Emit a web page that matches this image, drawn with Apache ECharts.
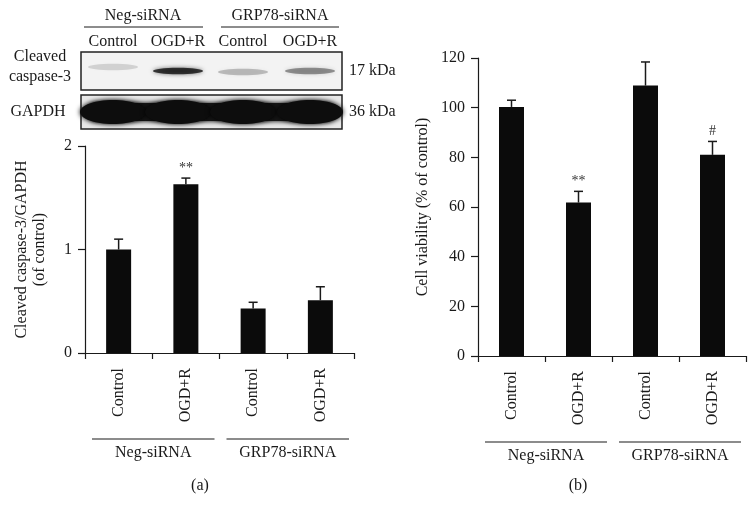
<!DOCTYPE html>
<html>
<head>
<meta charset="utf-8">
<script src="https://cdn.jsdelivr.net/npm/echarts@6/dist/echarts.min.js"></script>
<style>
  html, body { margin: 0; padding: 0; background: #fff; }
  #chart { width: 756px; height: 518px; }
</style>
</head>
<body>
<div id="chart"></div>
<script>
// data
const categories = ['Control', 'OGD+R', 'Control', 'OGD+R']
const groupNames = ['Neg-siRNA', 'GRP78-siRNA']
const groupStart = [0, 2]
const caspaseMean = [1.0, 1.63, 0.43, 0.51]
const caspaseErr = [0.10, 0.06, 0.06, 0.13]
const caspaseMarks = ['', '**', '', '']
const viabilityMean = [100.3, 61.8, 108.9, 81.0]
const viabilityErr = [2.7, 4.5, 9.5, 5.4]
const viabilityMarks = ['', '**', '', '#']
const caspaseTicks = [0, 1, 2]
const viabilityTicks = [0, 20, 40, 60, 80, 100, 120]

const FONT = '"Liberation Serif", "DejaVu Serif", serif'
const INK = '#1a1a1a'

const chart = echarts.init(document.getElementById('chart'))

function yAxisOf(gridIndex, ticks, name, nameGap) {
  return {
    type: 'value',
    gridIndex: gridIndex,
    min: ticks[0],
    max: ticks[ticks.length - 1],
    interval: ticks[1] - ticks[0],
    name: name,
    nameLocation: 'middle',
    nameGap: nameGap,
    nameTextStyle: { fontFamily: FONT, fontSize: 16, color: INK, lineHeight: 18 },
    axisLine: { show: true, lineStyle: { color: INK, width: 1.2 } },
    axisTick: { show: true, length: 7, lineStyle: { color: INK, width: 1.2 } },
    axisLabel: { fontFamily: FONT, fontSize: 16, color: INK, margin: 13 },
    splitLine: { show: false }
  }
}

function xAxisOf(gridIndex) {
  return {
    type: 'category',
    gridIndex: gridIndex,
    data: categories,
    axisLine: { lineStyle: { color: INK, width: 1.2 } },
    axisTick: { show: true, length: 6, lineStyle: { color: INK, width: 1.2 } },
    axisLabel: { rotate: 90, fontFamily: FONT, fontSize: 16, color: INK, margin: 15 }
  }
}

function barSeries(idx, values) {
  return {
    type: 'bar',
    xAxisIndex: idx,
    yAxisIndex: idx,
    data: values,
    barWidth: 25,
    itemStyle: { color: '#0b0b0b' },
    silent: true
  }
}

function errorSeries(idx, means, errs, marks) {
  return {
    type: 'custom',
    xAxisIndex: idx,
    yAxisIndex: idx,
    silent: true,
    data: means.map((m, i) => [i, m + errs[i]]),
    renderItem(params, api) {
      const i = params.dataIndex
      const top = api.coord([i, means[i] + errs[i]])
      const base = api.coord([i, means[i]])
      const children = [
        { type: 'line', shape: { x1: top[0], y1: top[1], x2: base[0], y2: base[1] }, style: { stroke: INK, lineWidth: 1.5 } },
        { type: 'line', shape: { x1: top[0] - 4.5, y1: top[1], x2: top[0] + 4.5, y2: top[1] }, style: { stroke: INK, lineWidth: 1.5 } }
      ]
      if (marks[i]) {
        children.push({
          type: 'text',
          style: { text: marks[i], x: top[0], y: top[1] - 3, align: 'center', verticalAlign: 'bottom', font: '14px ' + FONT, fill: '#333' }
        })
      }
      return { type: 'group', children: children }
    }
  }
}

function groupSeries(idx) {
  return {
    type: 'custom',
    xAxisIndex: idx,
    yAxisIndex: idx,
    silent: true,
    clip: false,
    data: groupStart.map(s => [s, 0]),
    renderItem(params, api) {
      const s = groupStart[params.dataIndex]
      const bw = api.size([1, 0])[0]
      const a = api.coord([s, 0])
      const b = api.coord([s + 1, 0])
      const x1 = a[0] - bw / 2 + 7
      const x2 = b[0] + bw / 2 - 5
      const y = a[1] + 86
      return {
        type: 'group',
        children: [
          { type: 'line', shape: { x1: x1, y1: y, x2: x2, y2: y }, style: { stroke: INK, lineWidth: 1.2 } },
          { type: 'text', style: { text: groupNames[params.dataIndex], x: (x1 + x2) / 2, y: y + 14, align: 'center', verticalAlign: 'middle', font: '16px ' + FONT, fill: INK } }
        ]
      }
    }
  }
}

// western blot panel (decorative)
const lanes = [113, 178, 243, 310]
const faint = [0.13, 0.72, 0.22, 0.38]
const faintY = [67, 71, 72, 71]
const blot = []
blot.push({ type: 'rect', shape: { x: 81, y: 52, width: 261, height: 38 }, style: { fill: '#f3f3f3', stroke: '#222', lineWidth: 1.5 } })
blot.push({ type: 'rect', shape: { x: 81, y: 95, width: 261, height: 34 }, style: { fill: '#e8e8e8', stroke: '#222', lineWidth: 1.5 } })
lanes.forEach((cx, i) => {
  blot.push({ type: 'ellipse', shape: { cx: cx, cy: faintY[i], rx: 25, ry: 3.2 }, style: { fill: 'rgba(0,0,0,' + faint[i] + ')', shadowBlur: 4, shadowColor: 'rgba(0,0,0,' + faint[i] + ')' } })
})
blot.push({ type: 'rect', shape: { x: 88, y: 103, width: 247, height: 18, r: 8 }, style: { fill: '#161616', shadowBlur: 5, shadowColor: '#000' } })
lanes.forEach(cx => {
  blot.push({ type: 'ellipse', shape: { cx: cx, cy: 112, rx: 33, ry: 12 }, style: { fill: '#0d0d0d', shadowBlur: 5, shadowColor: '#000' } })
})
const txt = (t, x, y, align) => ({ type: 'text', style: { text: t, x: x, y: y, align: align || 'center', verticalAlign: 'middle', font: '16px ' + FONT, fill: INK } })
blot.push(txt('Neg-siRNA', 143, 16), txt('GRP78-siRNA', 280, 16))
blot.push({ type: 'line', shape: { x1: 84, y1: 27, x2: 203, y2: 27 }, style: { stroke: INK, lineWidth: 1 } })
blot.push({ type: 'line', shape: { x1: 221, y1: 27, x2: 339, y2: 27 }, style: { stroke: INK, lineWidth: 1 } })
categories.forEach((c, i) => blot.push(txt(c, lanes[i], 42)))
blot.push(txt('Cleaved', 40, 57), txt('caspase-3', 40, 77), txt('GAPDH', 38, 112))
blot.push(txt('17 kDa', 349, 71, 'left'), txt('36 kDa', 349, 112, 'left'))
blot.push(txt('(a)', 200, 486), txt('(b)', 578, 486))

chart.setOption({
  animation: false,
  backgroundColor: '#fff',
  grid: [
    { left: 85, top: 146, width: 269, height: 207 },
    { left: 478, top: 58, width: 268, height: 298 }
  ],
  xAxis: [xAxisOf(0), xAxisOf(1)],
  yAxis: [
    yAxisOf(0, caspaseTicks, 'Cleaved caspase-3/GAPDH\n(of control)', 36),
    yAxisOf(1, viabilityTicks, 'Cell viability (% of control)', 46)
  ],
  series: [
    barSeries(0, caspaseMean),
    errorSeries(0, caspaseMean, caspaseErr, caspaseMarks),
    groupSeries(0),
    barSeries(1, viabilityMean),
    errorSeries(1, viabilityMean, viabilityErr, viabilityMarks),
    groupSeries(1)
  ],
  graphic: blot
})
</script>
</body>
</html>
